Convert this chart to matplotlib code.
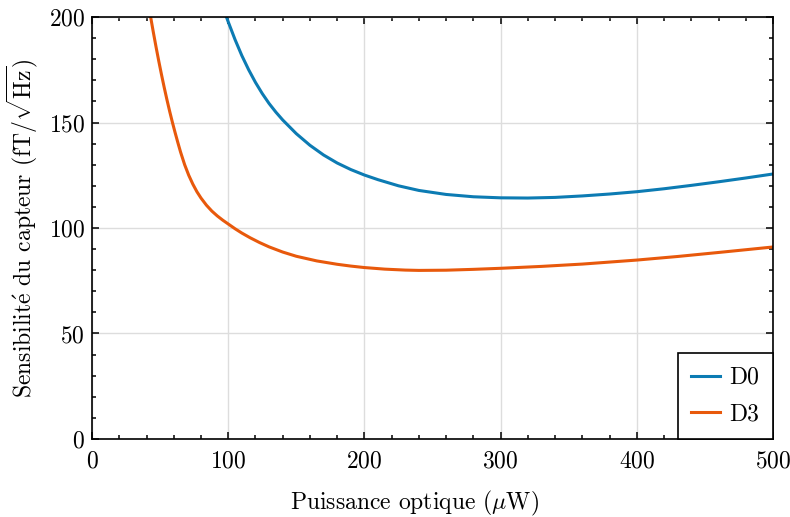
import matplotlib
matplotlib.use("Agg")
import matplotlib.pyplot as plt
from matplotlib.ticker import MultipleLocator

# ---- data ----
d0_x = [98.7, 100, 105, 110, 115, 120, 125, 130, 135, 140, 150, 160, 170, 180, 190,
        200, 210, 225, 240, 260, 280, 300, 320, 340, 360, 380, 400, 420, 440, 460,
        480, 500]
d0_y = [200, 197.7, 189.3, 181.7, 175.0, 169.0, 163.7, 159.0, 154.9, 151.2, 144.7,
        139.2, 134.6, 130.8, 127.7, 125.1, 122.9, 120.0, 117.8, 115.9, 114.8, 114.3,
        114.2, 114.5, 115.2, 116.1, 117.2, 118.6, 120.2, 121.9, 123.7, 125.6]

d3_x = [43, 45, 47, 49, 51, 53, 55, 57, 59, 61, 63, 65, 68, 71, 74, 77, 80, 84, 88,
        92, 96, 100, 105, 110, 116, 123, 130, 140, 150, 165, 180, 190, 200, 215, 230,
        240, 260, 280, 300, 330, 360, 400, 430, 460, 500]
d3_y = [200.1, 192.8, 185.8, 179.1, 172.7, 166.6, 160.8, 155.3, 150.1, 145.2, 140.5,
        136.0, 130.0, 125.0, 120.8, 117.2, 114.2, 110.8, 108.0, 105.7, 103.7, 101.9,
        99.65, 97.6, 95.4, 93.1, 91.05, 88.6, 86.6, 84.4, 82.8, 81.95, 81.25, 80.5,
        80.05, 79.9, 80.0, 80.4, 80.9, 81.8, 82.9, 84.8, 86.5, 88.4, 91.0]

labels = ["D0", "D3"]
colors = ["#0C7BB3", "#E8590C"]

plt.rcParams.update({
    "font.family": ["cmr10", "DejaVu Serif"],
    "mathtext.fontset": "cm",
    "axes.formatter.use_mathtext": True,
    "font.size": 17,
})

fig = plt.figure(figsize=(7.9, 5.17), dpi=100)
ax = fig.add_axes([0.1165, 0.1509, 0.862, 0.8162])

ax.plot(d0_x, d0_y, color=colors[0], lw=2.2, label=labels[0])
ax.plot(d3_x, d3_y, color=colors[1], lw=2.2, label=labels[1])

ax.set_xlim(0, 500)
ax.set_ylim(0, 200)
ax.xaxis.set_major_locator(MultipleLocator(100))
ax.xaxis.set_minor_locator(MultipleLocator(20))
ax.yaxis.set_major_locator(MultipleLocator(50))
ax.yaxis.set_minor_locator(MultipleLocator(10))
ax.tick_params(which="both", direction="in", top=True, right=True, width=1.1)
ax.tick_params(which="major", length=5)
ax.tick_params(which="minor", length=3)
ax.tick_params(axis="x", pad=8)
ax.tick_params(axis="y", pad=5)
for s in ax.spines.values():
    s.set_linewidth(1.2)
ax.grid(True, which="major", color="#DDDDDD", lw=1)
ax.set_axisbelow(True)

ax.set_xlabel(r"Puissance optique ($\mu$W)")
ax.xaxis.set_label_coords(0.473, -0.118)
ax.set_ylabel(r"Sensibilit$\mathrm{\acute{e}}$ du capteur (fT$/\sqrt{\mathrm{Hz}}$)", labelpad=6)

leg = ax.legend(loc="lower right", borderaxespad=0, fancybox=False, framealpha=1,
                edgecolor="black", labelspacing=0.6, borderpad=0.58,
                handlelength=1.2, handletextpad=0.42, fontsize=17)
leg.get_frame().set_linewidth(1.2)

fig.savefig("out.png", dpi=100)
